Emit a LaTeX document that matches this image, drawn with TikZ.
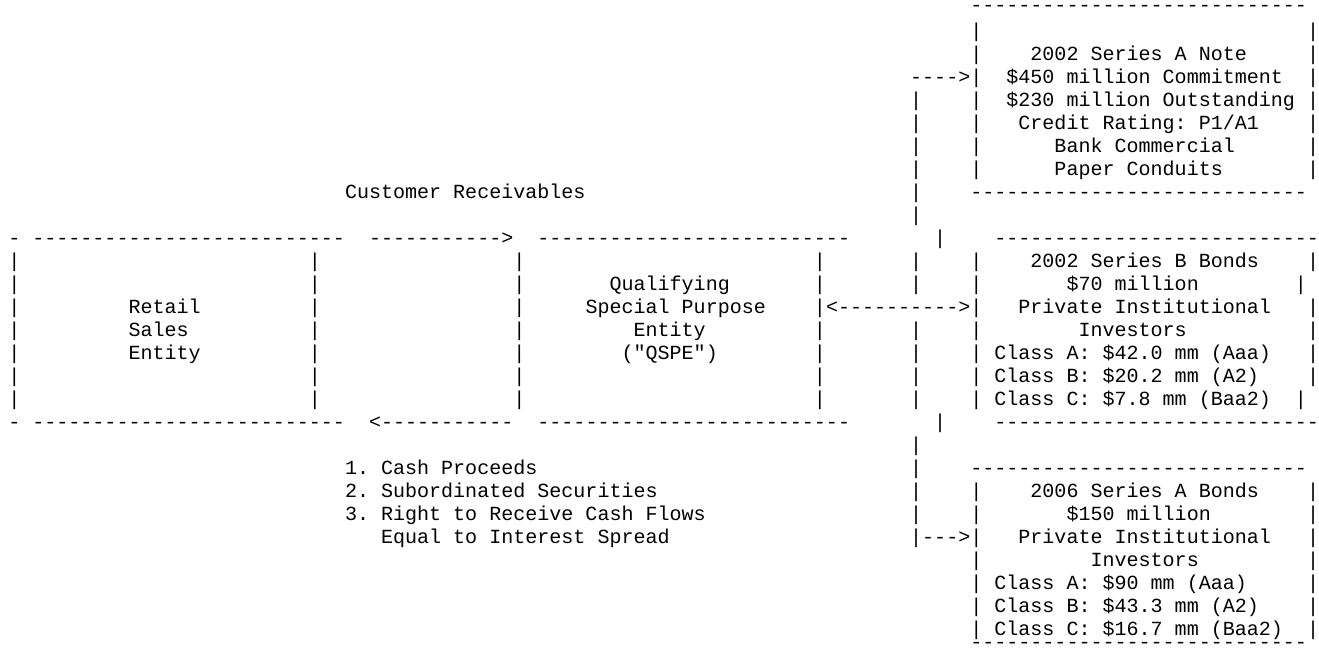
\documentclass[tikz,border=0pt]{standalone}
\usepackage{fontspec}
\setmonofont{Liberation Mono}
\ExplSyntaxOn
\NewDocumentCommand\dashes{m}{\prg_replicate:nn{#1}{-}}
\ExplSyntaxOff
% row/col placement of monospaced text (units: reference pixels, y downward)
\newcommand\tx[3]{\node[asc] (r#1c#2) at ({8.3+12.025*#2},{14.0+23.0*#1}) {#3};}
\newcommand\txy[4]{\node[asc] (r#1c#2) at ({8.3+12.025*#2},#3) {#4};}
\newcommand\pipes[2]{\foreach \c in {#2}{\tx{#1}{\c}{|}}}
\begin{document}
\begin{tikzpicture}[x=0.75pt,y=-0.75pt,
  asc/.style={font=\ttfamily\fontsize{15.03pt}{18pt}\selectfont,
    inner sep=0pt,outer sep=0pt,anchor=base west,text=black}]
\useasboundingbox (0,0) rectangle (1319,653);
\fill[white] (0,0) rectangle (1319,653);
% ---- 2002 Series A Note box
\txy{0}{80}{11.2}{\dashes{28}}
\pipes{1}{80,108}
\pipes{2}{80,108}
\tx{2}{85}{2002 Series A Note}
\tx{3}{75}{\dashes{4}>|}
\tx{3}{83}{\$450 million Commitment}
\tx{3}{108}{|}
\pipes{4}{75,80,108}
\tx{4}{83}{\$230 million Outstanding}
\pipes{5}{75,80,108}
\tx{5}{84}{Credit Rating: P1/A1}
\pipes{6}{75,80,108}
\tx{6}{87}{Bank Commercial}
\pipes{7}{75,80,108}
\tx{7}{87}{Paper Conduits}
\tx{8}{28}{Customer Receivables}
\tx{8}{75}{|}
\tx{8}{80}{\dashes{28}}
\tx{9}{75}{|}
% ---- top edges of Retail / QSPE / Series B boxes
\tx{10}{0}{-}
\tx{10}{2}{\dashes{26}}
\tx{10}{30}{\dashes{11}>}
\tx{10}{44}{\dashes{26}}
\tx{10}{77}{|}
\tx{10}{82}{\dashes{27}}
% ---- box rows
\pipes{11}{0,25,42,67,75,80,108}
\tx{11}{85}{2002 Series B Bonds}
\pipes{12}{0,25,42,67,75,80,107}
\tx{12}{50}{Qualifying}
\tx{12}{88}{\$70 million}
\pipes{13}{0,25,42}
\tx{13}{10}{Retail}
\tx{13}{48}{Special Purpose}
\tx{13}{67}{|<\dashes{10}>|}
\tx{13}{84}{Private Institutional}
\tx{13}{108}{|}
\pipes{14}{0,25,42,67,75,80,108}
\tx{14}{10}{Sales}
\tx{14}{52}{Entity}
\tx{14}{89}{Investors}
\pipes{15}{0,25,42,67,75,80,108}
\tx{15}{10}{Entity}
\tx{15}{51}{("QSPE")}
\tx{15}{82}{Class A: \$42.0 mm (Aaa)}
\pipes{16}{0,25,42,67,75,80,108}
\tx{16}{82}{Class B: \$20.2 mm (A2)}
\pipes{17}{0,25,42,67,75,80,107}
\tx{17}{82}{Class C: \$7.8 mm (Baa2)}
% ---- bottom edges
\tx{18}{0}{-}
\tx{18}{2}{\dashes{26}}
\tx{18}{30}{<\dashes{11}}
\tx{18}{44}{\dashes{26}}
\tx{18}{77}{|}
\tx{18}{82}{\dashes{27}}
\tx{19}{75}{|}
% ---- 2006 Series A Bonds box and QSPE list
\tx{20}{28}{1. Cash Proceeds}
\tx{20}{75}{|}
\tx{20}{80}{\dashes{28}}
\tx{21}{28}{2. Subordinated Securities}
\pipes{21}{75,80,108}
\tx{21}{85}{2006 Series A Bonds}
\tx{22}{28}{3. Right to Receive Cash Flows}
\pipes{22}{75,80,108}
\tx{22}{88}{\$150 million}
\tx{23}{31}{Equal to Interest Spread}
\tx{23}{75}{|\dashes{3}>|}
\tx{23}{84}{Private Institutional}
\tx{23}{108}{|}
\pipes{24}{80,108}
\tx{24}{90}{Investors}
\pipes{25}{80,108}
\tx{25}{82}{Class A: \$90 mm (Aaa)}
\pipes{26}{80,108}
\tx{26}{82}{Class B: \$43.3 mm (A2)}
\pipes{27}{80,108}
\tx{27}{82}{Class C: \$16.7 mm (Baa2)}
\txy{28}{80}{648.5}{\dashes{28}}
\end{tikzpicture}
\end{document}
